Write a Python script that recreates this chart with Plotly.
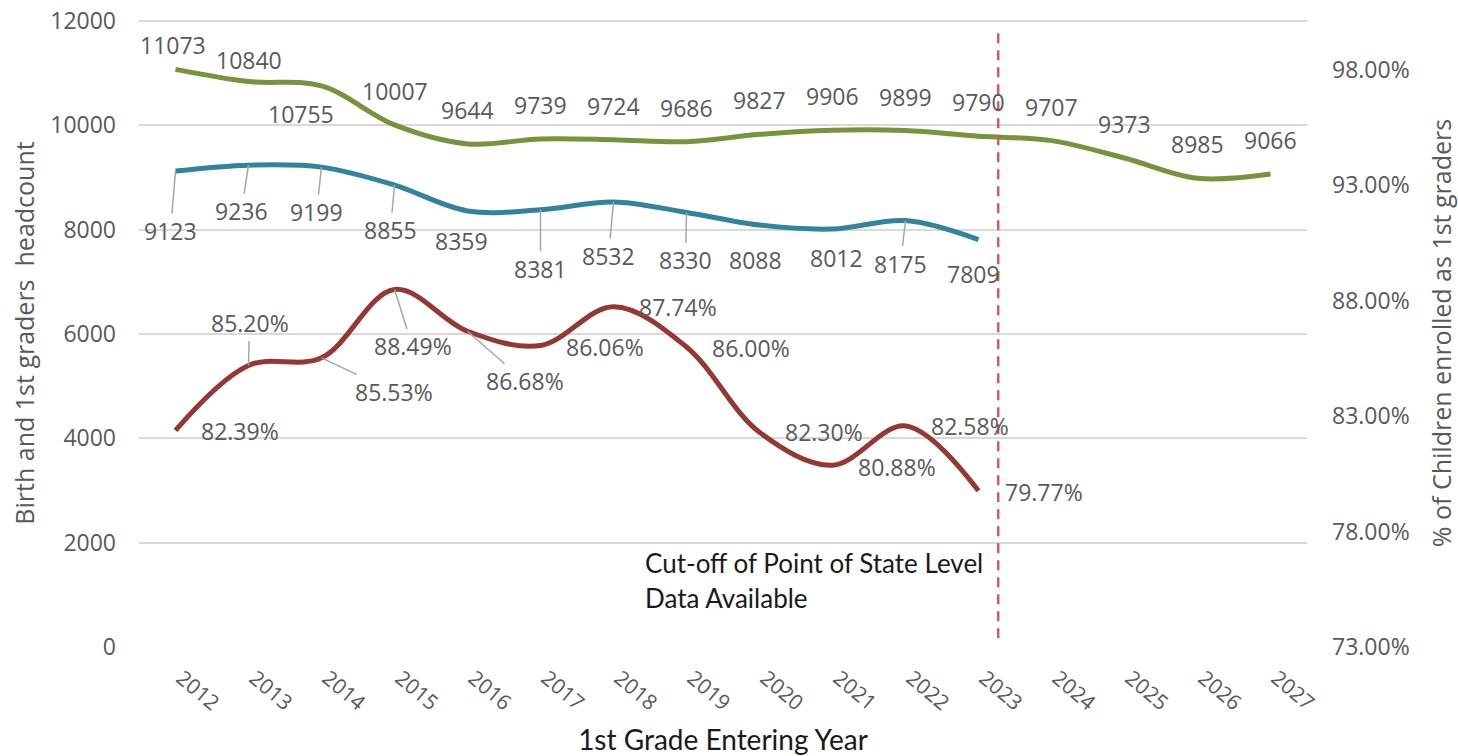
import plotly.graph_objects as go

# ---------------- data ----------------
years = list(range(2012, 2028))
births = [11073, 10840, 10755, 10007, 9644, 9739, 9724, 9686, 9827, 9906, 9899, 9790, 9707, 9373, 8985, 9066]
grade1_years = list(range(2012, 2024))
grade1 = [9123, 9236, 9199, 8855, 8359, 8381, 8532, 8330, 8088, 8012, 8175, 7809]
pct_enrolled = [82.39, 85.20, 85.53, 88.49, 86.68, 86.06, 87.74, 86.00, 82.30, 80.88, 82.58, 79.77]
left_ticks = [0, 2000, 4000, 6000, 8000, 10000, 12000]
left_ticklabels = [str(v) for v in left_ticks]
right_ticks = [73, 78, 83, 88, 93, 98]
right_ticklabels = [f"{v:.2f}%" for v in right_ticks]
CUTOFF_YEAR = 2023.27
cutoff_lines = ["Cut-off of Point of State Level", "Data Available"]

# ---------------- label placement (pixel offsets: dx, dy-down, leader) ----------------
green_off = [(-3, -24, False), (0, -22, False), (-21, 28, False)] + [(0, -34, False)] * 13
blue_off = [(-5, 60, True), (-7, 46, True), (-5, 45, True), (-4, 45, True), (-6, 30, False),
            (0, 59, True), (-5, 54, True), (-1, 48, True), (-4, 35, False), (4, 29, False),
            (-5, 43, True), (-5, 34, False)]
red_off = [(64, 1, False), (1, -42, True), (72, 34, True), (18, 57, True), (57, 50, True),
           (64, 1, False), (64, 0, False), (64, 1, False), (64, 0, False), (64, 2, False),
           (64, 0, False), (65, 1, False)]

GREEN = "#77933C"
BLUE = "#31849B"
RED = "#953735"
GRAY = "#595959"
GRID = "#d9d9d9"
LEADER = "#a6a6a6"
FONT = "Open Sans"
BLACK = "#1a1a1a"

fig = go.Figure()
fig.add_trace(go.Scatter(x=years, y=births, mode="lines", line=dict(color=GREEN, width=5, shape="spline"),
                         name="Births", yaxis="y"))
fig.add_trace(go.Scatter(x=grade1_years, y=grade1, mode="lines", line=dict(color=BLUE, width=5, shape="spline"),
                         name="1st graders", yaxis="y"))
fig.add_trace(go.Scatter(x=grade1_years, y=pct_enrolled, mode="lines", line=dict(color=RED, width=5, shape="spline"),
                         name="% enrolled", yaxis="y2"))

annotations = []


def add_labels(xs, ys, texts, offs, yref):
    for x, y, t, (dx, dy, leader) in zip(xs, ys, texts, offs):
        a = dict(x=x, y=y, xref="x", yref=yref, text=t,
                 font=dict(family=FONT, size=23, color=GRAY))
        if leader:
            a.update(showarrow=True, ax=dx, ay=dy, arrowhead=0, arrowwidth=1.5, arrowcolor=LEADER)
        else:
            a.update(showarrow=False, xshift=dx, yshift=-dy)
        annotations.append(a)


add_labels(years, births, [str(v) for v in births], green_off, "y")
add_labels(grade1_years, grade1, [str(v) for v in grade1], blue_off, "y")
add_labels(grade1_years, pct_enrolled, [f"{v:.2f}%" for v in pct_enrolled], red_off, "y2")

annotations.append(dict(x=2018.40, y=1610, xref="x", yref="y", text=cutoff_lines[0], showarrow=False,
                        xanchor="left", yanchor="middle", font=dict(family="Lato", size=26, color=BLACK)))
annotations.append(dict(x=2018.40, y=939, xref="x", yref="y", text=cutoff_lines[1], showarrow=False,
                        xanchor="left", yanchor="middle", font=dict(family="Lato", size=26, color=BLACK)))

fig.add_shape(type="line", x0=CUTOFF_YEAR, x1=CUTOFF_YEAR, y0=170, y1=11870, xref="x", yref="y",
              line=dict(color="#d65a5a", width=2.5, dash="10px,7px"))

fig.update_layout(
    width=1458, height=756,
    margin=dict(l=139, r=151, t=19, b=109),
    paper_bgcolor="white", plot_bgcolor="white",
    showlegend=False,
    annotations=annotations,
    xaxis=dict(range=[2011.5, 2027.5], tickvals=years, ticktext=[str(y) for y in years],
               tickangle=40, showgrid=False, zeroline=False, showline=False, ticks="",
               tickfont=dict(family=FONT, size=21, color=GRAY), ticklabelstandoff=14,
               ticklabelshift=6,
               title=dict(text="1st Grade Entering Year", standoff=22,
                          font=dict(family="Lato", size=28, color=BLACK)),
               automargin=False),
    yaxis=dict(range=[0, 12038], tickvals=left_ticks, ticktext=left_ticklabels,
               showgrid=True, gridcolor=GRID, gridwidth=2, ticklabeloverflow="allow",
               zeroline=False, showline=False, ticks="", ticklabelstandoff=22,
               tickfont=dict(family=FONT, size=23, color=GRAY),
               title=dict(text="Birth and 1st graders\u00a0 headcount", standoff=8,
                          font=dict(family=FONT, size=25, color=GRAY)),
               automargin=False),
    yaxis2=dict(range=[73, 100.21], tickvals=right_ticks, ticktext=right_ticklabels, overlaying="y",
                side="right", showgrid=False, zeroline=False, showline=False, ticks="",
                ticklabeloverflow="allow",
                ticklabelstandoff=24, tickfont=dict(family=FONT, size=23, color=GRAY),
                title=dict(text="% of Children enrolled as 1st graders", standoff=40,
                           font=dict(family=FONT, size=25, color=GRAY)),
                automargin=False),
)

fig.write_html("out.html", config={"displayModeBar": False},
               post_script="document.body.style.margin='0';")
